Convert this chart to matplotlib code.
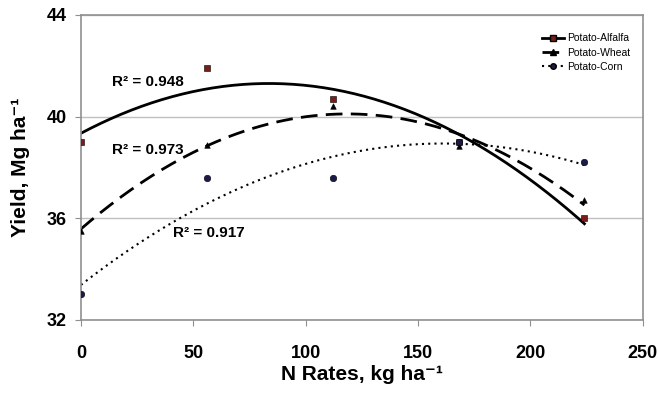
import numpy as np
import matplotlib.pyplot as plt

plt.rcParams['font.family'] = ['Liberation Sans', 'DejaVu Sans']

# N rates (kg/ha) and yields (Mg/ha)
n_rates = [0, 56, 112, 168, 224]
alfalfa = [39.0, 41.9, 40.7, 39.0, 36.0]
wheat = [35.5, 38.9, 40.4, 38.85, 36.7]
corn = [33.0, 37.6, 37.6, 39.0, 38.2]
r2_labels = ['R² = 0.948', 'R² = 0.973', 'R² = 0.917']

fig = plt.figure(figsize=(6.58, 3.93), dpi=100)
ax = fig.add_axes([0.123, 0.186, 0.854, 0.776])

xs = np.linspace(0, 224, 200)
series = [
    ('Potato-Alfalfa', alfalfa, 's', '#7a1c1c', '-', 2.0),
    ('Potato-Wheat', wheat, '^', 'black', (0, (6, 3)), 2.0),
    ('Potato-Corn', corn, 'o', '#1c1a4a', (0, (1, 2)), 1.5),
]
handles = []
for name, vals, mk, col, ls, lw in series:
    ax.scatter(n_rates, vals, marker=mk, color=col, s=22 if mk != '^' else 16,
               edgecolors='black', linewidths=0.4, zorder=3)
    coef = np.polyfit(n_rates, vals, 2)
    ax.plot(xs, np.polyval(coef, xs), color='black', linestyle=ls, linewidth=lw, zorder=2)
    h, = ax.plot([], [], color='black', linestyle=ls, linewidth=lw, marker=mk,
                 markerfacecolor=col, markeredgecolor='black', markersize=4)
    handles.append((h, name))

ax.text(14, 41.35, r2_labels[0], fontsize=11, fontweight='bold', va='center')
ax.text(14, 38.7, r2_labels[1], fontsize=11, fontweight='bold', va='center')
ax.text(41, 35.4, r2_labels[2], fontsize=11, fontweight='bold', va='center')

ax.set_xlim(0, 250)
ax.set_ylim(32, 44)
ax.set_xticks([0, 50, 100, 150, 200, 250])
ax.set_yticks([32, 36, 40, 44])
ax.yaxis.grid(True, color='#c0c0c0', linewidth=1)
ax.set_axisbelow(True)
for s in ax.spines.values():
    s.set_color('#909090')
    s.set_linewidth(1.2)
ax.tick_params(colors='#909090', labelcolor='black', length=4, labelsize=13)
for lab in ax.get_xticklabels() + ax.get_yticklabels():
    lab.set_fontweight('bold')
ax.tick_params(axis='x', pad=14)
ax.tick_params(axis='y', pad=6)

ax.set_xlabel('N Rates, kg ha⁻¹', fontsize=15, fontweight='bold', labelpad=2)
ax.set_ylabel('Yield, Mg ha⁻¹', fontsize=15, fontweight='bold', labelpad=12)

leg = ax.legend([h for h, _ in handles], [n for _, n in handles], loc='upper right',
                bbox_to_anchor=(0.995, 0.97), fontsize=7.5, frameon=False,
                handlelength=2.2, handletextpad=0.3, labelspacing=0.4)

fig.savefig('out.png', dpi=100)
